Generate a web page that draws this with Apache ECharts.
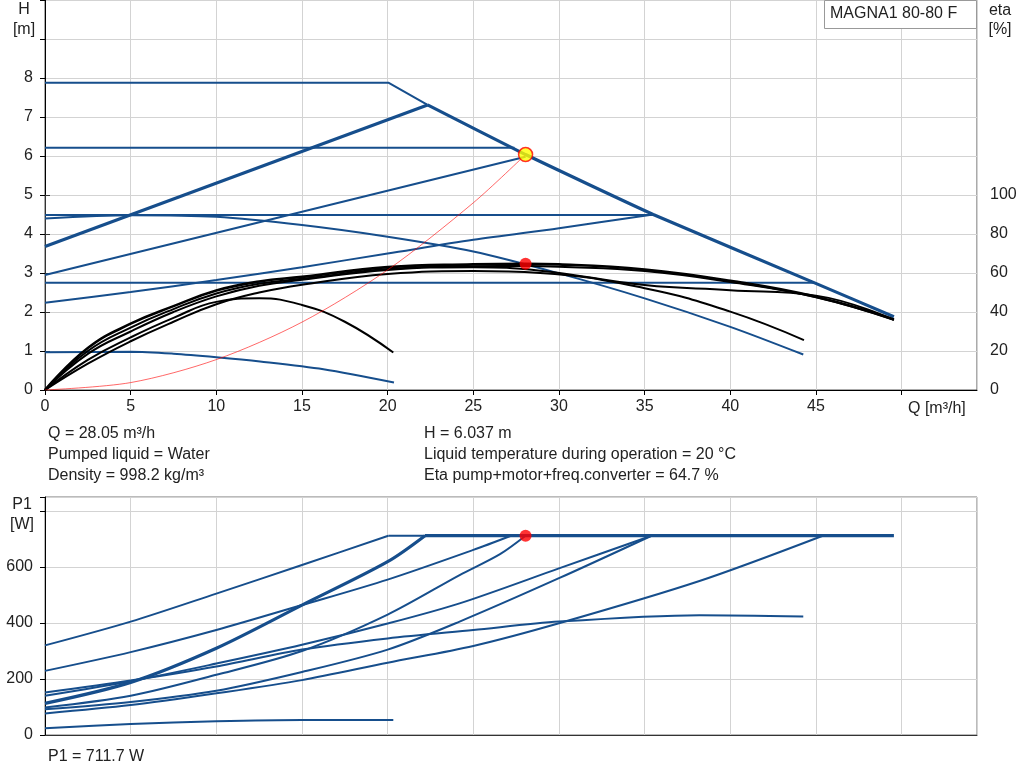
<!DOCTYPE html>
<html>

<head>
    <meta charset="utf-8">
    <title>MAGNA1 80-80 F</title>
    <style>
        html, body { margin: 0; padding: 0; background: #fff; }
    </style>
</head>

<body>
    <div id="chart" style="width: 1024px;height: 781px;"></div>

    <script src="https://cdn.jsdelivr.net/npm/echarts@6/dist/echarts.min.js"></script>
    <script>
        const chart = echarts.init(document.getElementById('chart'));

        // --- H [m] over Q [m3/h] (blue pump curves) ---
        const hMaxFlat = [[0, 7.88], [20.04, 7.88], [22.33, 7.31]];
        const hMaxSlope = [[22.33, 7.31], [28.05, 6.037], [35.5, 4.5], [44.85, 2.76], [49.55, 1.88]];
        const hPropHigh = [[0, 3.68], [22.33, 7.31]];
        const hConst62 = [[0, 6.21], [27.4, 6.21]];
        const hPropMid = [[0, 2.95], [28.05, 5.98]];
        const hConst45 = [[0, 4.49], [35.5, 4.49]];
        const hPropLow = [[0, 2.24], [5, 2.51], [10, 2.82], [15, 3.15], [20, 3.5], [25, 3.85], [30, 4.15], [35.5, 4.5]];
        const hConst28 = [[0, 2.75], [44.85, 2.75]];
        const hCurveMid = [[0, 4.40], [5, 4.48], [10, 4.44], [15, 4.23], [20, 3.93], [25, 3.55], [30, 2.99], [35, 2.35], [40, 1.62], [44.26, 0.91]];
        const hCurveMin = [[0, 0.97], [5, 0.98], [7.5, 0.93], [10, 0.84], [12.55, 0.73], [16.25, 0.53], [20.37, 0.19]];

        // system curve through duty point
        const hSystem = [[0, 0], [5, 0.19], [10, 0.78], [15, 1.74], [20, 3.08], [25, 4.8], [28.05, 6.037]];

        // --- eta [%] over Q (black) ---
        const etaMain = [[0, 0], [2.5, 21.5], [5, 34], [7.5, 43], [10, 51], [12.5, 55.6], [15, 58], [20, 63], [25, 64.4], [28.05, 64.7], [30, 64.4], [35, 61.8], [40, 56], [45, 47.8], [49.55, 36.2]];
        const etaB = [[0, 0], [2.5, 20], [5, 32], [7.5, 41.5], [10, 49.5], [12.5, 54.5], [15, 57], [20, 62], [25, 63.5], [28.05, 63.6], [30, 63.2], [35, 61], [40, 55.4], [45, 47.6], [49.55, 36]];
        const etaC = [[0, 0], [2.5, 18.5], [5, 30], [7.5, 40], [10, 48], [12.5, 53.5], [15, 56.5], [20, 61.6], [25, 63], [28.9, 61.2], [35, 53.8], [40, 51.2], [45, 48.4], [49.55, 36]];
        const etaD = [[0, 0], [2.5, 13.5], [5, 25], [7.5, 35], [10, 44], [12.5, 50], [15, 54], [20, 59.5], [25, 61], [28.9, 60], [35, 52.2], [40, 40.2], [44.3, 25.6]];
        const etaE = [[0, 0], [2.5, 15.5], [5, 27], [7.5, 37], [10, 45.2], [12.5, 47], [15, 43.6], [17.5, 35], [20.33, 19.2]];

        // --- P1 [W] over Q (blue) ---
        const pTop = [[20.04, 711.7], [22.18, 711.7]];
        const pTopThick = [[22.18, 711.7], [49.55, 711.7]];
        const pA = [[0, 320], [5, 405], [10, 505], [15, 607], [20.04, 711.7]];
        const pB = [[0, 229], [5, 296], [10, 375], [15, 464], [20, 555], [25, 661], [27.2, 711.7]];
        const pThick = [[0, 113], [5, 188], [10, 310], [15, 464], [20, 619], [22.18, 711.7]];
        const pC = [[0, 98], [5, 140], [10, 215], [15, 300], [20, 430], [24.2, 571], [26.56, 646], [28.05, 711.7]];
        const pD = [[0, 140], [5, 192], [10, 255], [15, 322], [20, 398], [24.2, 470], [30, 595], [35.4, 711.7]];
        const pE = [[0, 92], [5, 118], [10, 158], [15, 225], [20, 305], [24.2, 405], [30, 560], [35.4, 711.7]];
        const pF = [[0, 77], [5, 107], [10, 149], [15, 196], [20, 258], [25, 318], [30, 399], [38.2, 550], [45.4, 711.7]];
        const pG = [[0, 152], [5, 195], [10, 245], [15, 305], [20, 345], [25, 375], [30, 405], [38.2, 428], [44.26, 423]];
        const pH = [[0, 24], [5, 39], [10, 49], [15, 54], [20.33, 54]];

        // duty point
        const duty = { q: 28.05, h: 6.037, eta: 64.7, p1: 711.7 };

        const BLUE = '#164e8c';
        const GRID = '#d3d3d3';
        const FONT = 'Liberation Sans, Arial, sans-serif';

        function line(data, color, width, gi, extra) {
            return Object.assign({
                type: 'line',
                data: data,
                xAxisIndex: gi,
                yAxisIndex: gi,
                showSymbol: false,
                symbol: 'none',
                smooth: 0.3,
                lineStyle: { color: color, width: width },
                silent: true,
                z: 3
            }, extra || {});
        }

        function text(x, y, str, align) {
            return {
                type: 'text',
                x: x,
                y: y,
                z: 100,
                style: {
                    text: str,
                    font: '16px ' + FONT,
                    fill: '#222',
                    textAlign: align || 'left',
                    align: align || 'left',
                    textVerticalAlign: 'middle',
                    verticalAlign: 'middle'
                }
            };
        }

        const xCommon = {
            type: 'value',
            min: 0,
            max: 54.4,
            interval: 5,
            splitLine: { show: true, lineStyle: { color: GRID, width: 1 } }
        };

        const option = {
            animation: false,
            textStyle: { fontFamily: FONT },
            grid: [
                { left: 45, top: 0, width: 932, height: 390, show: true, borderColor: '#555', borderWidth: 1, backgroundColor: '#fff' },
                { left: 45, top: 195, width: 932, height: 195 },
                { left: 45, top: 497, width: 932, height: 238, show: true, borderColor: '#777', borderWidth: 1, backgroundColor: '#fff' }
            ],
            xAxis: [
                Object.assign({}, xCommon, {
                    gridIndex: 0,
                    axisLine: { show: true, lineStyle: { color: '#000' } },
                    axisTick: { show: true, length: 5, lineStyle: { color: '#000' } },
                    axisLabel: {
                        show: true, margin: 9, fontSize: 16, color: '#222', fontFamily: FONT,
                        showMaxLabel: false,
                        formatter: v => (v % 5 === 0 && v < 50) ? String(v) : ''
                    }
                }),
                Object.assign({}, xCommon, {
                    gridIndex: 1,
                    show: false,
                    splitLine: { show: false }
                }),
                Object.assign({}, xCommon, {
                    gridIndex: 2,
                    axisLine: { show: true, lineStyle: { color: '#333' } },
                    axisTick: { show: false },
                    axisLabel: { show: false }
                })
            ],
            yAxis: [
                {
                    type: 'value', gridIndex: 0, min: 0, max: 10, interval: 1,
                    axisLine: { show: true, lineStyle: { color: '#000' } },
                    axisTick: { show: true, length: 5, lineStyle: { color: '#000' } },
                    axisLabel: {
                        margin: 12, fontSize: 16, color: '#222', fontFamily: FONT,
                        formatter: v => v <= 8 ? String(v) : ''
                    },
                    splitLine: { show: true, lineStyle: { color: GRID, width: 1 } }
                },
                {
                    type: 'value', gridIndex: 1, min: 0, max: 100, interval: 20,
                    position: 'right',
                    axisLine: { show: true, lineStyle: { color: '#333' } },
                    axisTick: { show: true, length: 5, lineStyle: { color: '#333' } },
                    axisLabel: { margin: 13, fontSize: 16, color: '#222', fontFamily: FONT },
                    splitLine: { show: false }
                },
                {
                    type: 'value', gridIndex: 2, min: 0, max: 850, interval: 200,
                    axisLine: { show: true, lineStyle: { color: '#000' } },
                    axisTick: { show: true, length: 5, lineStyle: { color: '#000' } },
                    axisLabel: {
                        margin: 12, fontSize: 16, color: '#222', fontFamily: FONT,
                        formatter: v => (v <= 600 && v % 200 === 0) ? String(v) : ''
                    },
                    splitLine: { show: true, lineStyle: { color: GRID, width: 1 } }
                }
            ],
            graphic: [
                text(24, 10, 'H', 'center'),
                text(24, 30, '[m]', 'center'),
                text(1000, 11, 'eta', 'center'),
                text(1000, 30, '[%]', 'center'),
                text(908, 409, 'Q [m³/h]'),
                {
                    type: 'rect', z: 99,
                    shape: { x: 824.5, y: 0.5, width: 152, height: 28 },
                    style: { fill: '#fff', stroke: '#999', lineWidth: 1 }
                },
                text(830, 14, 'MAGNA1 80-80 F'),
                text(48, 434, 'Q = ' + duty.q + ' m³/h'),
                text(48, 455, 'Pumped liquid = Water'),
                text(48, 476, 'Density = 998.2 kg/m³'),
                text(424, 434, 'H = ' + duty.h + ' m'),
                text(424, 455, 'Liquid temperature during operation = 20 °C'),
                text(424, 476, 'Eta pump+motor+freq.converter = ' + duty.eta + ' %'),
                text(22, 505, 'P1', 'center'),
                text(22, 525, '[W]', 'center'),
                text(48, 757, 'P1 = ' + duty.p1 + ' W')
            ],
            series: [
                // H curves
                line(hMaxFlat, BLUE, 2, 0, { smooth: false }),
                line(hMaxSlope, BLUE, 3.2, 0, { smooth: 0.15 }),
                line(hPropHigh, BLUE, 3.2, 0, { smooth: false }),
                line(hConst62, BLUE, 2, 0, { smooth: false }),
                line(hPropMid, BLUE, 2, 0, { smooth: false }),
                line(hConst45, BLUE, 2, 0, { smooth: false }),
                line(hPropLow, BLUE, 2, 0),
                line(hConst28, BLUE, 2, 0, { smooth: false }),
                line(hCurveMid, BLUE, 2, 0),
                line(hCurveMin, BLUE, 2, 0),
                // eta curves
                line(etaE, '#000', 2, 1, { z: 4, smooth: 0.45 }),
                line(etaD, '#000', 2, 1, { z: 4, smooth: 0.45 }),
                line(etaC, '#000', 2, 1, { z: 4, smooth: 0.45 }),
                line(etaB, '#000', 2, 1, { z: 4, smooth: 0.45 }),
                line(etaMain, '#000', 2.6, 1, { z: 4, smooth: 0.45 }),
                // system curve
                line(hSystem, 'rgba(255,0,0,0.75)', 0.8, 0, { z: 5 }),
                // P1 curves
                line(pH, BLUE, 2, 2),
                line(pF, BLUE, 2, 2),
                line(pE, BLUE, 2, 2),
                line(pD, BLUE, 2, 2),
                line(pC, BLUE, 2, 2),
                line(pG, BLUE, 2, 2),
                line(pB, BLUE, 2, 2),
                line(pA, BLUE, 2, 2),
                line(pThick, BLUE, 3.2, 2),
                line(pTop, BLUE, 2, 2, { smooth: false }),
                line(pTopThick, BLUE, 3.2, 2, { smooth: false }),
                // duty points
                {
                    type: 'scatter', xAxisIndex: 0, yAxisIndex: 0, z: 10, silent: true,
                    data: [[duty.q, duty.h]], symbolSize: 14,
                    itemStyle: { color: '#ffff00', borderColor: '#ff0000', borderWidth: 1.5 }
                },
                {
                    type: 'scatter', xAxisIndex: 1, yAxisIndex: 1, z: 10, silent: true,
                    data: [[duty.q, duty.eta]], symbolSize: 12,
                    itemStyle: { color: '#ff0000' }
                },
                {
                    type: 'scatter', xAxisIndex: 2, yAxisIndex: 2, z: 10, silent: true,
                    data: [[duty.q, duty.p1]], symbolSize: 12,
                    itemStyle: { color: '#ff0000' }
                }
            ]
        };

        chart.setOption(option);
    </script>

</body>

</html>
